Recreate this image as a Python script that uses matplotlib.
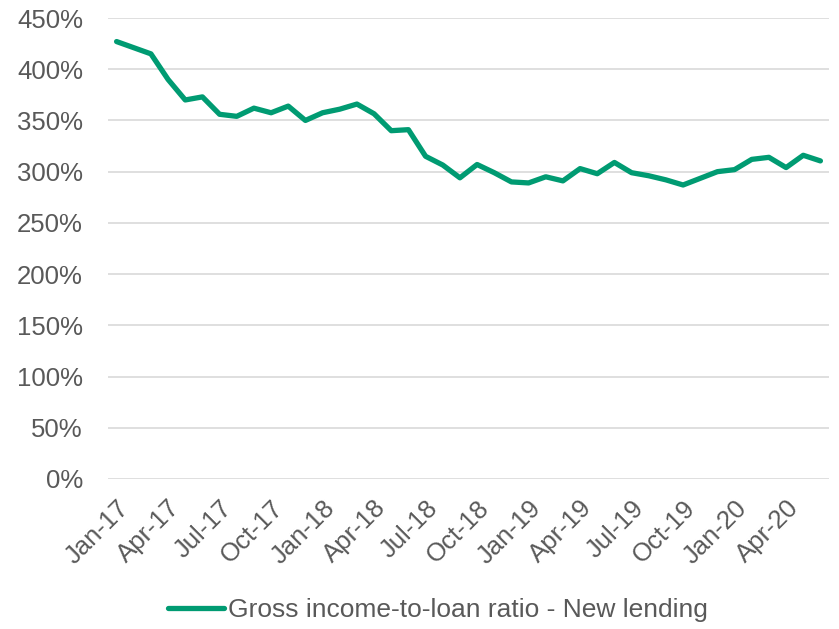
import matplotlib
matplotlib.use("Agg")
import matplotlib.pyplot as plt
from matplotlib.ticker import FuncFormatter, MultipleLocator

# Monthly series, Jan-17 to Jun-20 (percent)
months = ["Jan-17", "Feb-17", "Mar-17", "Apr-17", "May-17", "Jun-17",
          "Jul-17", "Aug-17", "Sep-17", "Oct-17", "Nov-17", "Dec-17",
          "Jan-18", "Feb-18", "Mar-18", "Apr-18", "May-18", "Jun-18",
          "Jul-18", "Aug-18", "Sep-18", "Oct-18", "Nov-18", "Dec-18",
          "Jan-19", "Feb-19", "Mar-19", "Apr-19", "May-19", "Jun-19",
          "Jul-19", "Aug-19", "Sep-19", "Oct-19", "Nov-19", "Dec-19",
          "Jan-20", "Feb-20", "Mar-20", "Apr-20", "May-20", "Jun-20"]
ratio = [427, 421, 415, 390, 370, 373, 356, 354, 362, 357.5, 364, 350,
         357.5, 361, 366, 356.5, 340, 341, 315, 306.5, 294, 307, 299, 290,
         289, 295, 291, 303, 298, 309, 299, 296, 292, 287, 293.5, 300,
         302, 312, 314, 304, 316, 310.5]
series_label = "Gross income-to-loan ratio - New lending"

text_color = "#595959"
line_color = "#009B72"
grid_color = "#D9D9D9"

plt.rcParams["font.family"] = ["Liberation Sans", "DejaVu Sans"]

fig = plt.figure(figsize=(8.39, 6.29), dpi=100)
ax = fig.add_axes([108 / 839, 1 - 479 / 629, (829 - 108) / 839, (479 - 18) / 629])

x = list(range(len(months)))
ax.plot(x, ratio, color=line_color, linewidth=3.8, solid_joinstyle="round",
        solid_capstyle="round", label=series_label, clip_on=False)

ax.set_xlim(-0.5, len(months) - 0.5)
ax.set_ylim(0, 450)
ax.yaxis.set_major_locator(MultipleLocator(50))
ax.yaxis.set_major_formatter(FuncFormatter(lambda v, _: f"{v:.0f}%"))

ax.set_xticks(x[::3])
ax.set_xticklabels(months[::3], rotation=45, ha="right", rotation_mode="anchor")

ax.grid(axis="y", color=grid_color, linewidth=1.2)
ax.set_axisbelow(True)
for s in ax.spines.values():
    s.set_visible(False)
ax.tick_params(axis="both", length=0, labelsize=18.5, colors=text_color)
ax.tick_params(axis="y", pad=18)
ax.tick_params(axis="x", pad=12)

leg = fig.legend(loc="center", bbox_to_anchor=(438 / 839, 1 - 610 / 629),
                 frameon=False, fontsize=19, handlelength=2.1, handletextpad=0.15)
for t in leg.get_texts():
    t.set_color(text_color)

fig.savefig("out.png", dpi=100)
